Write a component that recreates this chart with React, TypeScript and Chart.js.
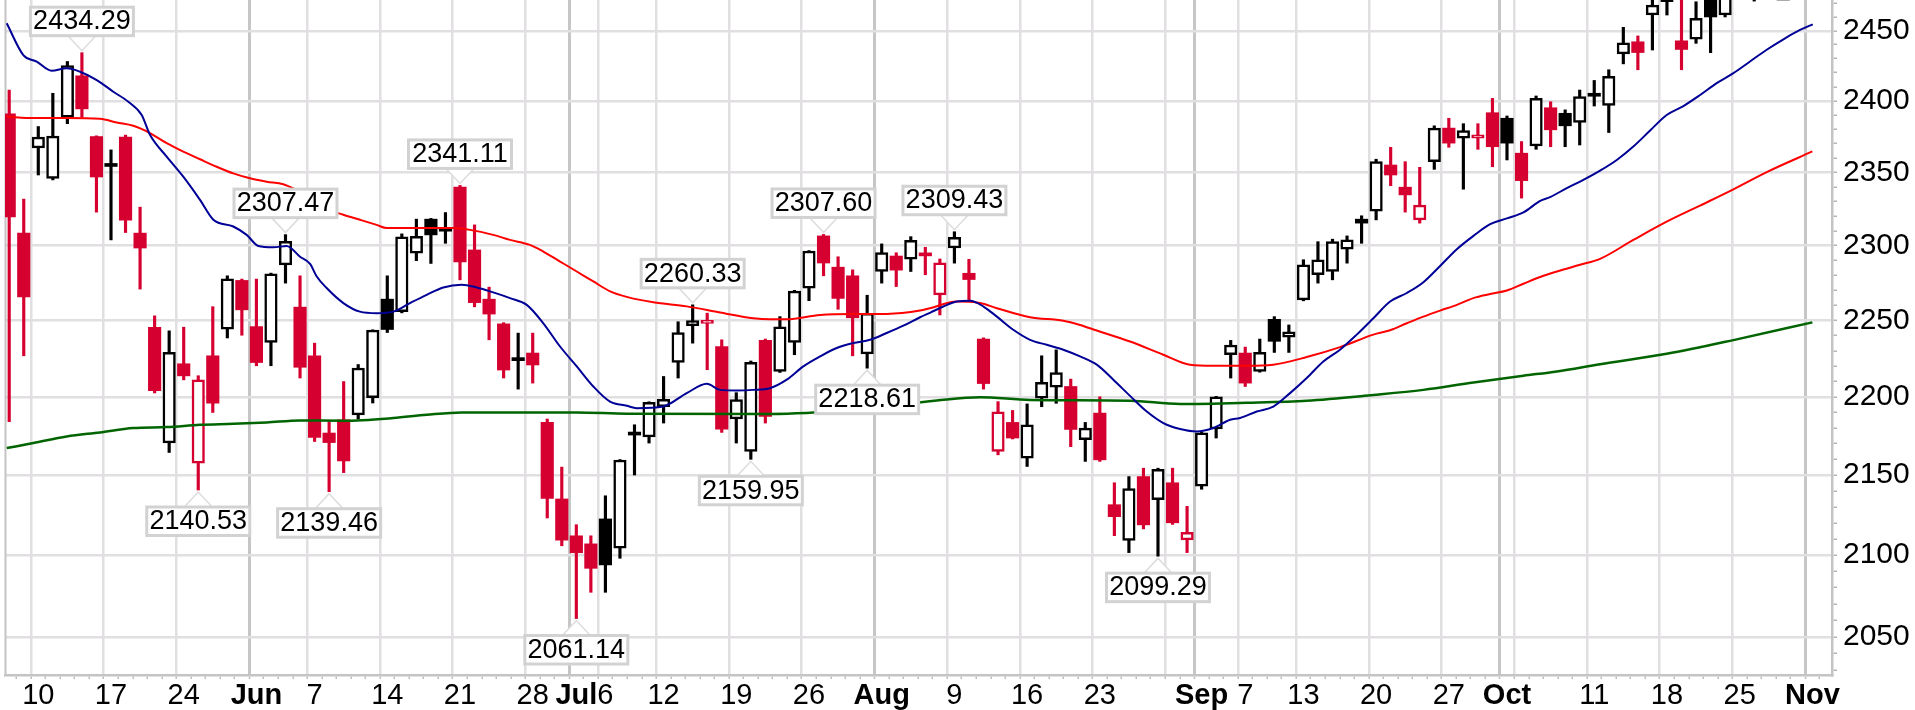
import React, { useEffect, useRef } from "react";
import { Chart, registerables } from "chart.js";

Chart.register(...registerables);

// Trading days from May 6 (index 0) to Nov 1 (index 124)
const PREV_CLOSE = 2402.3;

const OPEN = [
  2391, 2308.5, 2367, 2346, 2388.5, 2417.8, 2375, 2356, 2374.6, 2308.5,
  2245.5, 2170.3, 2221.5, 2157.5, 2226.7, 2244.2, 2276.6, 2245.9, 2235.4, 2287,
  2258.8, 2226.7, 2176.7, 2185.2, 2188.4, 2199.5, 2264.1, 2255.8, 2294.9, 2318,
  2312, 2340, 2297.1, 2264.1, 2247.7, 2225.5, 2228.5, 2183.5, 2134.9, 2111.9,
  2106.9, 2122.4, 2104.2, 2177, 2174.2, 2193.7, 2222.4, 2246.5, 2248, 2232.8,
  2185.7, 2165, 2236.8, 2216.5, 2235.4, 2271.4, 2306.6, 2285.5, 2279.7, 2228,
  2282.6, 2293, 2290.8, 2294, 2267, 2298.4, 2281.4, 2237.7, 2165, 2183.5,
  2160.7, 2199.1, 2206.3, 2206.7, 2172.4, 2189.5, 2131.3, 2109, 2149, 2134.4,
  2145.1, 2109.4, 2143, 2179.3, 2227.4, 2228.5, 2216.5, 2250.7, 2238.9, 2263.6,
  2280.4, 2282.6, 2297.6, 2318, 2323.5, 2355.2, 2339.9, 2317.5, 2357.5, 2380.9,
  2373.9, 2373.9, 2391.7, 2387.8, 2363.4, 2368.4, 2395.2, 2391.3, 2384.8, 2404.5,
  2396.9, 2433.4, 2442.1, 2461.4, 2471, 2442.8, 2443.9, 2475, 2461.4, 2487,
  2482, 2487, 2508, 2503, 2513,
];

const HIGH = [
  2407.7, 2331.7, 2382, 2405.4, 2428, 2434.29, 2375.5, 2365.7, 2376, 2326.2,
  2253, 2243.1, 2245.5, 2213.7, 2259.1, 2279.7, 2277.5, 2277.5, 2281.5, 2307.47,
  2279.7, 2235, 2184, 2209.9, 2221, 2243.8, 2279.7, 2308, 2318, 2318.5,
  2322.5, 2341.11, 2314.1, 2272.1, 2248.5, 2241.6, 2241.6, 2185.7, 2155, 2118.8,
  2111.9, 2136.9, 2159.8, 2182, 2196.8, 2213.2, 2249.1, 2260.33, 2254.8, 2237.2,
  2202.7, 2223.3, 2237.7, 2252.5, 2270, 2296.7, 2307.6, 2292.5, 2283.7, 2266.7,
  2301.2, 2295.2, 2306.1, 2298.9, 2291, 2309.43, 2290.8, 2238.5, 2196.9, 2191.2,
  2195.4, 2226.7, 2230.6, 2211.5, 2183.5, 2200, 2145.1, 2149, 2154.3, 2154.3,
  2154.3, 2130.3, 2177.2, 2200.3, 2236.8, 2232.4, 2237.7, 2252.5, 2247, 2290.5,
  2302.7, 2304.4, 2306.6, 2320.3, 2359.2, 2367.5, 2357.5, 2353.6, 2382.5, 2387.8,
  2384, 2384, 2401.8, 2389.4, 2371.5, 2403.5, 2399.4, 2393.7, 2407.7, 2414.5,
  2422.1, 2452.5, 2446.3, 2480, 2484, 2476, 2471, 2490, 2482, 2498,
  2503, 2506, 2514, 2513, 2525,
];

const LOW = [
  2184, 2226.7, 2348.3, 2344.9, 2384, 2388.5, 2322.8, 2303.9, 2308.9, 2270.8,
  2202.5, 2164.3, 2211, 2140.53, 2189.9, 2238.4, 2240.2, 2220.2, 2220.2, 2274.8,
  2212.2, 2171.3, 2139.46, 2151.5, 2185.7, 2196, 2242, 2255, 2289.9, 2288,
  2301.6, 2277, 2259, 2237.2, 2212.2, 2205, 2208.9, 2123, 2105.7, 2061.14,
  2077.1, 2077.1, 2098, 2150, 2170.3, 2183.1, 2212.2, 2235, 2217.6, 2177.1,
  2170.3, 2159.95, 2183.1, 2215.8, 2227.4, 2263.1, 2279.7, 2257.4, 2226.7, 2218.61,
  2274.8, 2272.5, 2282.6, 2280.4, 2253.6, 2288.2, 2263.1, 2205, 2162.8, 2172.9,
  2155.4, 2193.6, 2195.8, 2168, 2158.6, 2158.6, 2112, 2101.5, 2116.2, 2099.29,
  2119, 2101.5, 2141, 2173.5, 2212.2, 2206.7, 2216, 2228.9, 2228.9, 2263,
  2274.8, 2277, 2288.2, 2301.6, 2317.5, 2340.9, 2322.8, 2315.3, 2352.2, 2367.5,
  2338.5, 2366.1, 2354, 2358.7, 2332.4, 2366.1, 2367.9, 2367.9, 2369.1, 2396.4,
  2377.8, 2426.3, 2422.1, 2436.2, 2461.4, 2422.1, 2441, 2434.3, 2460, 2481,
  2471.5, 2478, 2494, 2499, 2496,
];

const CLOSE = [
  2319.6, 2265.6, 2374.7, 2375.3, 2425, 2394.4, 2346.9, 2354.2, 2317.3, 2298.4,
  2204, 2229, 2213.6, 2211, 2195.9, 2277.7, 2257, 2222.3, 2281.1, 2303,
  2219.2, 2173.9, 2170.6, 2158.9, 2218.7, 2243.6, 2244, 2305.9, 2306.3, 2307.3,
  2309.8, 2289.1, 2261.8, 2254.2, 2217.4, 2223.5, 2220.7, 2135.2, 2109.2, 2101.4,
  2091.8, 2093.9, 2159.5, 2175.4, 2196.5, 2198.4, 2242, 2249.8, 2249.1, 2179.1,
  2198.2, 2222.5, 2187.3, 2245.7, 2269.5, 2296.4, 2288.3, 2264.6, 2251.7, 2254.7,
  2295.4, 2283.5, 2303.6, 2293.1, 2288.5, 2305.7, 2277.2, 2208.6, 2190.3, 2173.5,
  2181.9, 2209.4, 2215.7, 2179, 2179.8, 2159.6, 2123.8, 2141.5, 2118.7, 2153.6,
  2120, 2114, 2176.8, 2200, 2233.8, 2208.9, 2228.9, 2236.2, 2242.5, 2287,
  2290.5, 2302.7, 2303.9, 2315.3, 2357.5, 2348.3, 2334.6, 2327.6, 2380.9, 2370.4,
  2379.2, 2376.2, 2367.9, 2370.4, 2344.4, 2401.8, 2379.7, 2382.5, 2403, 2403.3,
  2417.4, 2441.4, 2434.4, 2468.6, 2480.7, 2436.6, 2459, 2460, 2479.4, 2490,
  2497.5, 2503, 2507.4, 2507.5, 2504.8,
];

// x-axis: weekly / monthly grid positions (trading-day index) and labels
const X_TICK_IDX = [2, 7, 12, 17, 21, 26, 31, 36, 39, 41, 45, 50, 55, 60, 65, 70, 75, 80, 82, 85, 89, 94, 99, 103, 104, 109, 114, 119, 124];
const X_TICK_LABELS = ["10", "17", "24", "Jun", "7", "14", "21", "28", "Jul", "6", "12", "19", "26", "Aug", "9", "16", "23", "", "Sep", "7", "13", "20", "27", "Oct", "", "11", "18", "25", "Nov"];
const MONTH_IDX = [17, 39, 60, 82, 103, 124];

const X_MIN = -0.289;
const X_MAX = 125.35;
const Y_MIN = 2027.2;
const Y_MAX = 2472.3;

// Moving averages: [dayIndex, value]
const SMA20: [number, number][] = [
  [-0.17, 2455.4], [0.97, 2432.6], [1.89, 2427.9], [2.92, 2421.4], [3.95, 2423.1], [4.87, 2420.7], [6.02, 2414.8], [7.16, 2406.5], [8.19, 2399.4], [9.11, 2390.1], [9.68, 2376.2], [10.83, 2361], [11.97, 2347.1], [13.12, 2331.2], [14.04, 2317.6], [15.41, 2313], [16.33, 2307.3], [17.13, 2299.8], [18.16, 2298.9], [19.08, 2299.8], [20, 2292.5], [20.69, 2287.7], [21.15, 2279.2], [21.83, 2271.5], [22.98, 2261.5], [24.12, 2255.8], [25.27, 2254.8], [26.41, 2255.8], [27.56, 2261.5], [28.71, 2267], [29.85, 2271.9], [31.12, 2273.7], [32.15, 2271.9], [33.29, 2268.6], [34.44, 2264.8], [35.59, 2260.3], [36.73, 2248.1], [37.88, 2232.8], [39.03, 2219.8], [40.17, 2206.7], [41.32, 2196.9], [42.47, 2194.2], [43.15, 2192.7], [44.98, 2193.8], [46.59, 2202.4], [47.97, 2208.4], [48.88, 2204.5], [50.03, 2204.1], [51.17, 2204.5], [52.32, 2205.6], [53.47, 2211.1], [54.61, 2219.8], [55.76, 2226.3], [56.91, 2231.8], [58.05, 2235.1], [59.2, 2237.2], [60.35, 2241.7], [61.49, 2246.5], [62.64, 2252.1], [63.35, 2255.2], [64.24, 2259.2], [65.16, 2262.5], [66.08, 2263], [67, 2259.2], [67.92, 2252.5], [69.05, 2243.8], [70.2, 2237.2], [71.35, 2233.9], [72.49, 2230.7], [73.64, 2226.3], [74.79, 2220.9], [75.93, 2211.1], [77.08, 2200.6], [78.23, 2190.5], [79.37, 2183.1], [80.52, 2179.3], [81.67, 2177.7], [82.81, 2179.9], [83.96, 2185.2], [84.64, 2186.3], [85.79, 2190.5], [86.93, 2193.7], [88.08, 2202.4], [89.23, 2212.2], [90.37, 2223], [91.52, 2230.7], [92.67, 2240.6], [93.81, 2251.4], [94.96, 2262.5], [96.11, 2268.2], [97.25, 2275.4], [98.4, 2286.3], [99.55, 2297.6], [100.69, 2306.6], [101.84, 2314.6], [102.99, 2318.5], [104.13, 2322.6], [105.28, 2330.5], [105.96, 2333.1], [107.11, 2339.2], [108.25, 2344.9], [109.4, 2351.3], [110.55, 2358.7], [111.69, 2368], [112.84, 2379.2], [113.98, 2390.1], [115.13, 2396.4], [116.28, 2404.2], [117.42, 2412.6], [118.57, 2419.7], [119.71, 2428], [120.86, 2436.4], [122.01, 2443.9], [123.15, 2450.6], [124.03, 2454.7],
];

const SMA50: [number, number][] = [
  [-0.17, 2389], [1.66, 2387.9], [3.95, 2387.9], [6.24, 2387.4], [7.39, 2384.8], [8.53, 2382.5], [9.68, 2377.4], [10.83, 2370.4], [11.97, 2364.5], [13.12, 2359.2], [14.27, 2354], [15.41, 2349.4], [16.56, 2346], [17.71, 2343.7], [18.85, 2341.9], [20, 2336.9], [21.15, 2332.4], [21.83, 2325.6], [22.98, 2321], [24.12, 2317.6], [25.27, 2314.1], [25.96, 2311.9], [30.54, 2311.9], [31.69, 2310.7], [33.29, 2307.3], [34.44, 2303.9], [35.81, 2300.5], [36.73, 2296], [37.88, 2289.3], [39.03, 2282.6], [40.17, 2275.9], [41.32, 2269.3], [42.47, 2265.6], [44.29, 2262], [46.59, 2259.3], [48.88, 2255.3], [51.17, 2251.4], [52.32, 2250.7], [53.47, 2250.7], [55.76, 2253.6], [58.05, 2254.3], [60.35, 2254.3], [62.64, 2256.5], [63.32, 2258.1], [65.16, 2262.5], [66.76, 2261.5], [67.92, 2258.1], [70.2, 2252.1], [72.49, 2249.8], [73.64, 2247], [74.79, 2243.3], [77.08, 2236.1], [79.37, 2227.4], [81.2, 2220.9], [82.81, 2220.2], [85.1, 2220.2], [86.93, 2220.9], [89.23, 2225.9], [91.52, 2232.4], [93.81, 2240.6], [94.96, 2243.5], [96.11, 2248.1], [97.25, 2252.5], [98.4, 2256.5], [99.55, 2260.3], [100.69, 2264.8], [101.84, 2267.5], [102.99, 2269.9], [104.13, 2274.4], [105.28, 2278.9], [106.43, 2282.6], [108.03, 2287.1], [109.4, 2291.1], [111.69, 2303.9], [113.98, 2316.3], [116.28, 2327.3], [118.57, 2338.4], [120.86, 2350.3], [124.0, 2364.6],
];

const SMA200: [number, number][] = [
  [-0.17, 2167.1], [1.66, 2170.3], [3.95, 2174.5], [6.24, 2177.1], [8.53, 2179.9], [10.83, 2180.5], [13.12, 2182], [15.41, 2182.6], [17.71, 2183.5], [20, 2184.8], [22.98, 2184.6], [26.41, 2186.3], [28.71, 2188.4], [31.12, 2189.9], [34.44, 2189.9], [39.03, 2189.9], [42.47, 2189.1], [52.32, 2188.9], [58.05, 2191.6], [63.79, 2197.6], [66.76, 2199.7], [70.2, 2198], [77.08, 2197.5], [80.52, 2195.4], [85.1, 2196.2], [89.23, 2197.5], [93.81, 2201.2], [97.25, 2204.5], [100.69, 2209.3], [104.13, 2213.7], [106.43, 2216.5], [109.4, 2221.2], [113.98, 2228], [118.57, 2237], [124, 2248.7],
];

// Swing high / low annotations
const ANN_IDX = [5, 19, 31, 13, 22, 39, 47, 51, 56, 59, 65, 79];
const ANN_VAL = [2434.29, 2307.47, 2341.11, 2140.53, 2139.46, 2061.14, 2260.33, 2159.95, 2307.6, 2218.61, 2309.43, 2099.29];
const ANN_SIDE = ["high", "high", "high", "low", "low", "low", "high", "low", "high", "low", "high", "low"];

const RED = "rgb(214,0,48)";
const BLACK = "#000000";
const FONT = '"Liberation Sans", Arial, sans-serif';

export default function App() {
  const ref = useRef<HTMLCanvasElement>(null);

  useEffect(() => {
    const n = OPEN.length;
    const idx = Array.from({ length: n }, (_, i) => i);
    const col = idx.map((i) => (CLOSE[i] < (i ? CLOSE[i - 1] : PREV_CLOSE) ? RED : BLACK));
    const filled = idx.map((i) => CLOSE[i] < OPEN[i]);
    const labelMap = new Map<number, string>(X_TICK_IDX.map((v, k) => [v, X_TICK_LABELS[k]]));
    const monthSet = new Set(MONTH_IDX);

    const frame = {
      id: "frame",
      beforeDatasetsDraw(chart: any) {
        const { ctx, chartArea } = chart;
        ctx.save();
        ctx.strokeStyle = "#c4c4c4";
        ctx.lineWidth = 2;
        ctx.beginPath();
        ctx.moveTo(chartArea.left + 0.5, chartArea.top);
        ctx.lineTo(chartArea.left + 0.5, chartArea.bottom);
        ctx.stroke();
        ctx.restore();
      },
    };

    const annotate = {
      id: "annotate",
      afterDatasetsDraw(chart: any) {
        const { ctx } = chart;
        const xs = chart.scales.x;
        const ys = chart.scales.y;
        ctx.save();
        ANN_IDX.forEach((i, k) => {
          const cx = xs.getPixelForValue(i);
          const py = ys.getPixelForValue(ANN_VAL[k]);
          const up = ANN_SIDE[k] === "high";
          const W = 103;
          const H = 28.5;
          const GAP = 17;
          const top = up ? py - GAP - H : py + GAP;
          const edge = up ? top + H : top;
          const apex = up ? py - 2 : py + 2;
          ctx.beginPath();
          ctx.moveTo(cx - 14, edge);
          ctx.lineTo(cx, apex);
          ctx.lineTo(cx + 14, edge);
          ctx.closePath();
          ctx.fillStyle = "#ffffff";
          ctx.fill();
          ctx.strokeStyle = "#dcdcdc";
          ctx.lineWidth = 1.5;
          ctx.beginPath();
          ctx.moveTo(cx - 14, edge);
          ctx.lineTo(cx, apex);
          ctx.lineTo(cx + 14, edge);
          ctx.stroke();
          ctx.fillStyle = "#ffffff";
          ctx.fillRect(cx - W / 2, top, W, H);
          ctx.strokeStyle = "#d2d2d2";
          ctx.lineWidth = 3;
          ctx.strokeRect(cx - W / 2, top, W, H);
          ctx.fillStyle = "#000000";
          ctx.font = `27px ${FONT}`;
          ctx.textAlign = "center";
          ctx.textBaseline = "middle";
          ctx.fillText(ANN_VAL[k].toFixed(2), cx, top + H / 2 + 0.5);
        });
        ctx.restore();
      },
    };

    const lineDs = (pts: [number, number][], color: string, width: number) => ({
      type: "line" as const,
      data: pts.map(([x, y]) => ({ x, y })),
      borderColor: color,
      borderWidth: width,
      pointRadius: 0,
      fill: false,
      cubicInterpolationMode: "monotone" as const,
      order: 0,
    });

    const chart = new Chart(ref.current as HTMLCanvasElement, {
      type: "bar",
      data: {
        datasets: [
          lineDs(SMA20, "rgb(0,0,150)", 2),
          lineDs(SMA50, "#ff0000", 2),
          lineDs(SMA200, "rgb(0,100,0)", 2.5),
          {
            type: "bar",
            data: idx.map((i) => ({ x: i, y: [Math.min(OPEN[i], CLOSE[i]), Math.max(OPEN[i], CLOSE[i])] })),
            backgroundColor: idx.map((i) => (filled[i] ? col[i] : "#ffffff")),
            borderColor: col,
            borderWidth: idx.map((i) => (filled[i] ? 0 : 2.5)),
            borderSkipped: false,
            barThickness: 12.5,
            minBarLength: 3,
            grouped: false,
            order: 1,
          } as any,
          {
            type: "bar",
            data: idx.map((i) => ({ x: i, y: [LOW[i], HIGH[i]] })),
            backgroundColor: col,
            borderWidth: 0,
            barThickness: 2.5,
            grouped: false,
            order: 2,
          } as any,
        ],
      },
      options: {
        responsive: false,
        animation: false,
        devicePixelRatio: 1,
        layout: { padding: { left: 5, right: 0, top: 0, bottom: 0 } },
        plugins: { legend: { display: false }, tooltip: { enabled: false } },
        scales: {
          x: {
            type: "linear",
            min: X_MIN,
            max: X_MAX,
            bounds: "data",
            offset: false,
            afterBuildTicks: (s: any) => {
              s.ticks = idx.map((i) => ({ value: i }));
            },
            afterFit: (s: any) => {
              s.height = 35;
              s.paddingLeft = 0;
              s.paddingRight = 0;
              s.paddingTop = 0;
              s.paddingBottom = 0;
            },
            grid: {
              color: (c: any) =>
                c.tick && monthSet.has(c.tick.value)
                  ? "#c6c6c6"
                  : c.tick && labelMap.has(c.tick.value)
                  ? "#e2dfe2"
                  : "rgba(0,0,0,0)",
              lineWidth: (c: any) => (c.tick && monthSet.has(c.tick.value) ? 3 : 2.5),
              tickColor: "#bdbdbd",
              tickLength: 4,
              tickWidth: 1.5,
            },
            border: { display: true, color: "#c4c4c4", width: 2.5 },
            ticks: {
              autoSkip: false,
              maxRotation: 0,
              minRotation: 0,
              padding: 0,
              color: "#000000",
              callback: (v: any) => labelMap.get(v) ?? "",
              font: (c: any) => ({
                family: FONT,
                size: 29,
                weight: c.tick && monthSet.has(c.tick.value) ? "bold" : "normal",
              }),
            },
          } as any,
          y: {
            type: "logarithmic",
            position: "right",
            min: Y_MIN,
            max: Y_MAX,
            bounds: "data",
            afterBuildTicks: (s: any) => {
              const t: { value: number }[] = [];
              for (let v = Math.ceil(Y_MIN / 10) * 10; v <= Y_MAX; v += 10) t.push({ value: v });
              s.ticks = t;
            },
            afterFit: (s: any) => {
              s.width = 83;
              s.paddingTop = 0;
              s.paddingBottom = 0;
              s.paddingLeft = 0;
              s.paddingRight = 0;
            },
            grid: {
              color: (c: any) => (c.tick && c.tick.value % 50 === 0 ? "#e2dfe2" : "rgba(0,0,0,0)"),
              lineWidth: 2.5,
              tickColor: "#b4b4b4",
              tickLength: 5,
              tickWidth: 1.5,
            },
            border: { display: true, color: "#c4c4c4", width: 2.5 },
            ticks: {
              autoSkip: false,
              padding: 6,
              color: "#000000",
              font: { family: FONT, size: 30 },
              callback: (v: any) => (Number(v) % 50 === 0 ? String(v) : ""),
            },
          } as any,
        },
      },
      plugins: [frame, annotate],
    } as any);

    return () => chart.destroy();
  }, []);

  return (
    <div style={{ position: "fixed", left: 0, top: 0, width: 1915, height: 710, background: "#ffffff" }}>
      <canvas ref={ref} width={1915} height={710} style={{ display: "block", width: 1915, height: 710 }} />
    </div>
  );
}
